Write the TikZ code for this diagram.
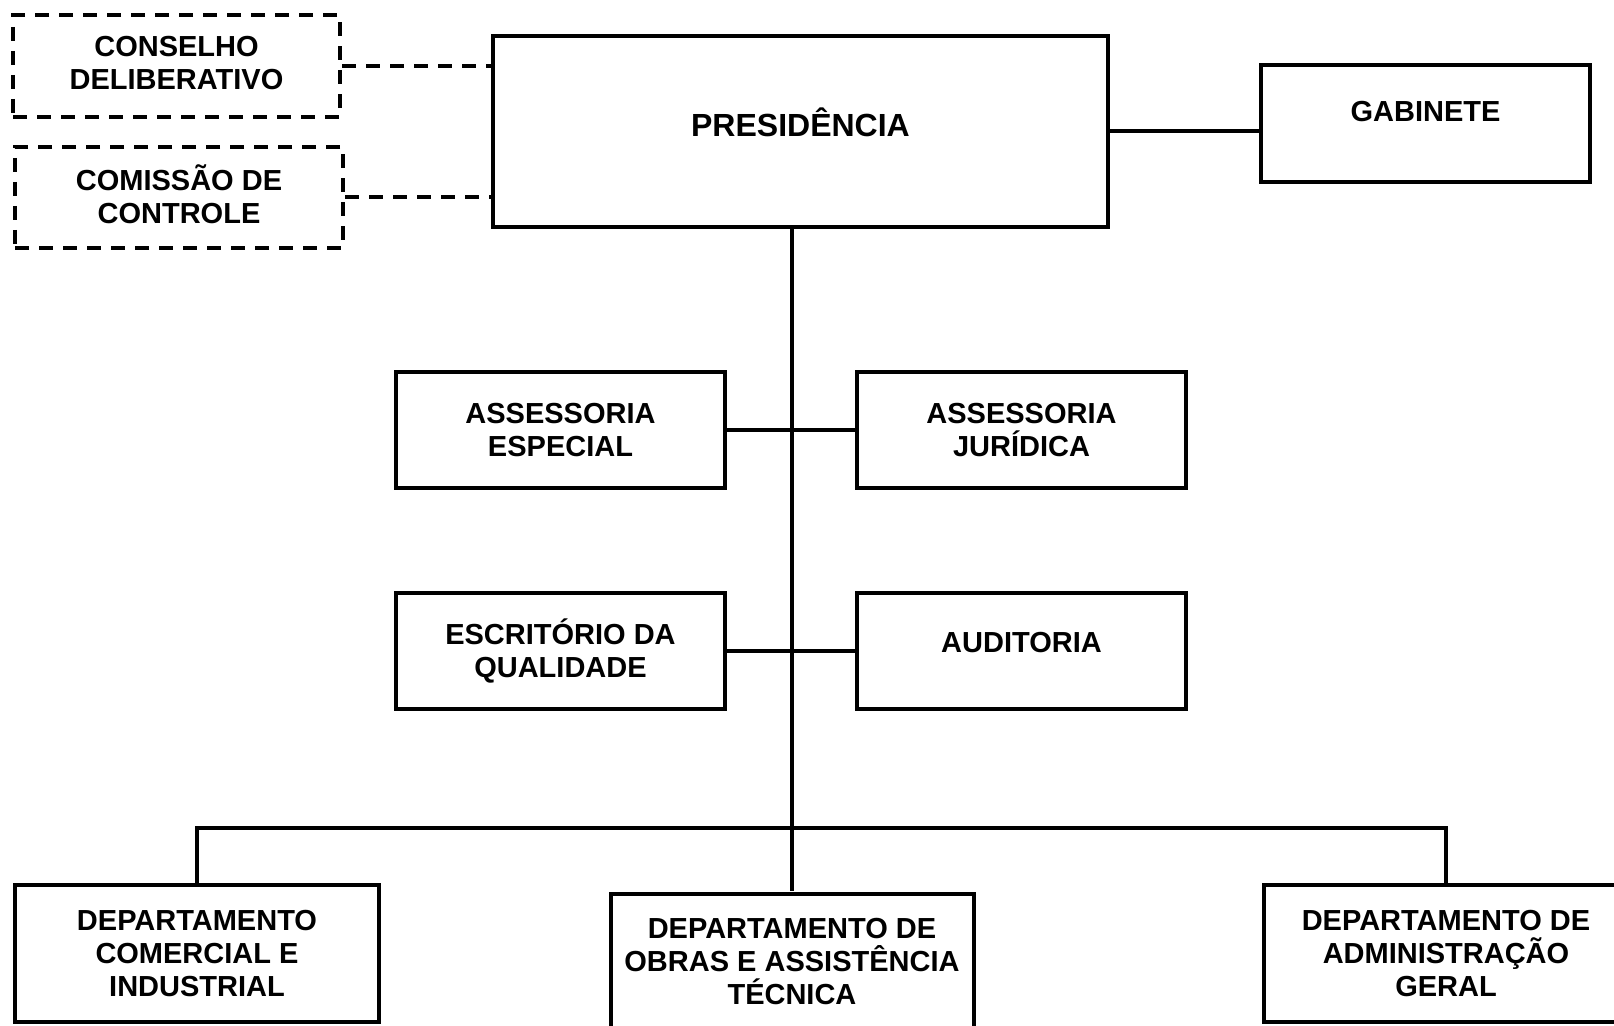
\documentclass[tikz,border=0pt]{standalone}
\usepackage{fontspec}
\setmainfont{Liberation Sans}

\begin{document}
\begin{tikzpicture}[x=0.5pt, y=-0.5pt,
  unit/.style={draw, line width=2pt, align=center, inner sep=2pt,
    font=\bfseries\fontsize{14.5}{16.5}\selectfont,
    minimum width=164.5pt, minimum height=58pt},
  council/.style={unit, dash pattern=on 7pt off 5pt},
  dept/.style={unit, minimum width=182pt, minimum height=68.5pt},
  lowtext/.style={text depth=#1},
  link/.style={line width=2pt},
  dlink/.style={link, dash pattern=on 7pt off 5pt}]

\useasboundingbox (0,0) rectangle (1614,1026);

%------------------ TOP (PRESIDENCIA) ------------------%
\node[council, lowtext=3pt, minimum width=163.5pt, minimum height=51pt] (cons) at (176.5,66)
  {CONSELHO\\DELIBERATIVO};
\node[council, lowtext=3pt, minimum width=164pt, minimum height=50.5pt] (comis) at (179,197.5)
  {COMISSÃO DE\\CONTROLE};

\node[unit, lowtext=9pt, minimum width=307.5pt, minimum height=95.5pt,
  font=\bfseries\fontsize{16}{19}\selectfont] (pres) at (800.5,131.5) {PRESIDÊNCIA};

\node[unit, lowtext=12pt, minimum height=58.5pt] (gab) at (1425.5,123.5) {GABINETE};

\draw[dlink] (cons.east) -- (cons.east -| pres.west);
\draw[dlink] (comis.east) -- (comis.east -| pres.west);
\draw[link] (pres.east) -- (pres.east -| gab.west);

%------------------ MIDDLE (STAFF) ------------------%
\node[unit] (esp) at (560.5,430) {ASSESSORIA\\ESPECIAL};
\node[unit] (jur) at (1021.5,430) {ASSESSORIA\\JURÍDICA};

\node[unit] (qual) at (560.5,651.5) {ESCRITÓRIO DA\\QUALIDADE};
\node[unit, lowtext=9pt] (aud) at (1021.5,651.5) {AUDITORIA};

\draw[link] (esp.east) -- (jur.west);
\draw[link] (qual.east) -- (aud.west);

%------------------ BOTTOM (DEPARTMENTS) ------------------%
\node[dept] (com) at (197,953.5) {DEPARTAMENTO\\COMERCIAL E\\INDUSTRIAL};
\node[dept, minimum width=181.5pt] (obras) at (792,962)
  {DEPARTAMENTO DE\\OBRAS E ASSISTÊNCIA\\TÉCNICA};
\node[dept] (adm) at (1446,953.5) {DEPARTAMENTO DE\\ADMINISTRAÇÃO\\GERAL};

\draw[link] (obras.north |- pres.south) -- (obras.north);

\coordinate (bus) at (792,828);
\draw[link] (com.north) |- (bus) -| (adm.north);

\end{tikzpicture}
\end{document}
